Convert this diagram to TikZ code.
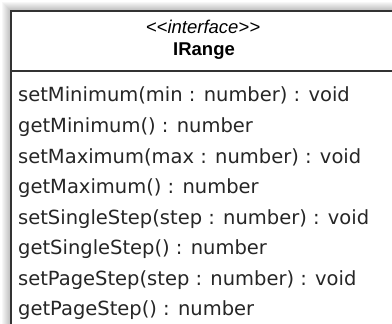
\documentclass[tikz,border=0pt]{standalone}
\usepackage{fontspec}
\setmainfont{DejaVu Sans}
\newfontfamily\headfont{Liberation Sans}
\tikzset{
  x=1pt, y=1pt,
  halo/.style={fill=black, fill opacity=0.03},
  borderline/.style={draw=black!80, line width=1.6pt},
  method/.style={anchor=base west, inner sep=0pt, font=\fontsize{19.5}{22}\selectfont, text=black!85},
  stereo/.style={anchor=base, inner sep=0pt, font=\headfont\itshape\fontsize{18.5}{21}\selectfont},
  cname/.style={anchor=base, inner sep=0pt, font=\headfont\bfseries\fontsize{18.5}{21}\selectfont},
}
\begin{document}
\begin{tikzpicture}
\useasboundingbox (0,0) rectangle (392,-324);
\clip (0,0) rectangle (392,-324);
\coordinate (tl) at (10.8,-10.8);
\coordinate (br) at (420,-360);
\foreach \d in {9,8,...,1} {
  \fill[halo] ([shift={(-\d,\d)}]tl) rectangle ([shift={(\d,-\d)}]br);
}
\fill[white] (tl) rectangle (br);
\draw[borderline] (tl) rectangle (br);
\coordinate (dl) at (10,-71);
\coordinate (dr) at (420,-71);
\draw[borderline, line width=1.4pt] (dl) -- (dr);
\node[stereo] (st) at (203,-34) {<<interface>>};
\node[cname] (nm) at (204,-56) {IRange};
\node[method] (m1) at (18,-102) {setMinimum(min : number) : void};
\node[method] (m2) at (18,-132.5) {getMinimum() : number};
\node[method] (m3) at (18,-163) {setMaximum(max : number) : void};
\node[method] (m4) at (18,-193.5) {getMaximum() : number};
\node[method] (m5) at (18,-224) {setSingleStep(step : number) : void};
\node[method] (m6) at (18,-254.5) {getSingleStep() : number};
\node[method] (m7) at (18,-285) {setPageStep(step : number) : void};
\node[method] (m8) at (18,-315.5) {getPageStep() : number};
\end{tikzpicture}
\end{document}
